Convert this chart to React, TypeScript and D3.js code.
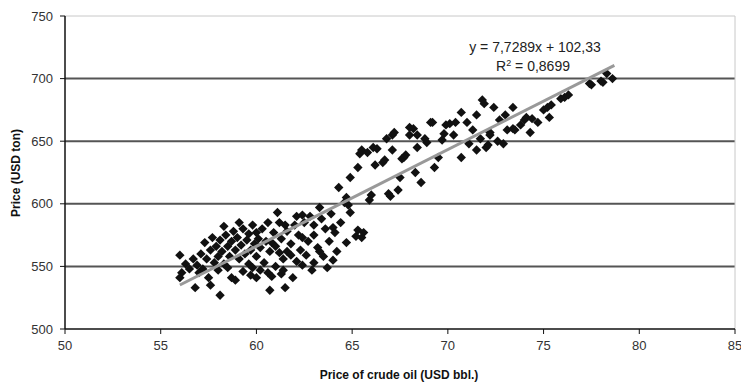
import * as d3 from "d3";

// [crude oil USD/bbl, price USD/ton]
const bandLow: [number, number][] = [
  [56.0, 559], [56.1, 545], [56.0, 541], [56.3, 552], [56.5, 548], [56.7, 556], [56.8, 533], [56.9, 551],
  [57.0, 545], [57.1, 560], [57.2, 548], [57.3, 569], [57.4, 556], [57.5, 541], [57.6, 535], [57.6, 563],
  [57.7, 573], [57.8, 553], [57.9, 566], [58.0, 558], [58.0, 547], [58.1, 527], [58.1, 571], [58.2, 562],
  [58.3, 582], [58.3, 552], [58.4, 575], [58.5, 566], [58.5, 549], [58.6, 558], [58.7, 541], [58.7, 570],
  [58.8, 578], [58.9, 539], [58.9, 563], [59.0, 573], [59.1, 585], [59.1, 556], [59.2, 567], [59.3, 580],
  [59.3, 546], [59.4, 560], [59.5, 571], [59.6, 576], [59.6, 552], [59.7, 563], [59.7, 543], [59.8, 583],
  [59.8, 549], [59.9, 568], [60.0, 558], [60.0, 577], [60.0, 541], [60.1, 572], [60.2, 565], [60.2, 547],
  [60.3, 580], [60.4, 553], [60.5, 570], [60.6, 585], [60.6, 545], [60.7, 531], [60.7, 562], [60.8, 542],
  [60.8, 569], [60.9, 577],
];

const bandMid: [number, number][] = [
  [61.0, 566], [61.0, 550], [61.1, 593], [61.2, 585], [61.2, 561], [61.3, 572], [61.3, 544], [61.4, 547],
  [61.4, 556], [61.5, 533], [61.5, 583], [61.6, 578], [61.6, 562], [61.8, 559], [61.8, 568], [61.9, 541],
  [62.0, 583], [62.1, 590], [62.1, 554], [62.2, 575], [62.3, 563], [62.4, 591], [62.4, 573], [62.4, 551],
  [62.5, 585], [62.6, 559], [62.7, 570], [62.8, 590], [62.9, 547], [63.0, 575], [63.0, 583], [63.0, 553],
  [63.2, 565], [63.3, 597], [63.3, 562], [63.4, 588], [63.5, 558], [63.6, 580], [63.7, 549], [63.8, 570],
  [63.9, 592], [64.0, 581], [64.0, 555], [64.1, 577], [64.2, 562], [64.3, 613], [64.4, 585], [64.6, 601],
  [64.7, 569], [64.7, 605], [64.8, 599], [64.9, 593], [64.9, 621], [65.2, 574], [65.3, 579], [65.5, 573],
  [65.6, 577],
];

const bandUpper: [number, number][] = [
  [65.3, 629], [65.4, 640], [65.5, 643], [65.8, 641], [65.9, 603], [66.0, 607], [66.1, 645], [66.2, 631],
  [66.3, 644], [66.6, 633], [66.7, 635], [66.8, 652], [66.9, 608], [67.0, 606], [67.1, 655], [67.1, 643],
  [67.2, 657], [67.4, 611], [67.5, 621], [67.6, 636], [67.7, 637], [67.8, 639], [68.0, 655], [68.0, 661],
  [68.2, 660], [68.3, 625], [68.4, 645], [68.4, 655], [68.6, 617], [68.8, 652], [68.9, 649], [69.1, 665],
  [69.2, 665], [69.3, 629], [69.5, 637], [69.7, 651], [69.8, 656], [69.9, 663],
];

const bandHigh: [number, number][] = [
  [70.1, 664], [70.3, 655], [70.4, 665], [70.7, 673], [70.7, 637], [71.0, 665], [71.1, 648], [71.3, 659],
  [71.5, 671], [71.5, 643], [71.7, 652], [71.8, 683], [71.9, 680], [72.0, 645], [72.1, 647], [72.2, 657],
  [72.2, 655], [72.4, 677], [72.6, 650], [72.7, 667], [72.9, 648], [73.0, 671], [73.1, 659], [73.4, 677],
  [73.4, 660], [73.5, 659], [73.8, 663], [74.0, 667], [74.1, 669], [74.3, 657], [74.4, 668], [74.7, 665],
  [75.0, 675], [75.2, 677], [75.3, 669], [75.4, 679], [75.9, 684], [76.1, 685], [76.3, 687], [77.4, 696],
  [77.5, 695], [78.0, 698], [78.1, 697], [78.3, 704], [78.6, 700],
];

const xTicks = [50, 55, 60, 65, 70, 75, 80, 85];
const yTicks = [500, 550, 600, 650, 700, 750];
const slope = 7.7289;
const intercept = 102.33;
const trendRange = [56, 78.7];

export default function App() {
  const width = 741;
  const height = 382;
  const x = d3.scaleLinear().domain([50, 85]).range([65, 735]);
  const y = d3.scaleLinear().domain([500, 750]).range([329, 16]);
  const points = [...bandLow, ...bandMid, ...bandUpper, ...bandHigh];
  const diamond = d3.symbol().type(d3.symbolSquare).size(44)() as string;
  const font = "Arial, 'Liberation Sans', sans-serif";

  return (
    <svg
      width={width}
      height={height}
      style={{ position: "absolute", left: 0, top: 0, background: "#fff" }}
      fontFamily={font}
    >
      {/* gridlines */}
      {yTicks.map((t) =>
        t === 500 ? null : (
          <line
            key={t}
            x1={x(50)}
            x2={x(85)}
            y1={y(t)}
            y2={y(t)}
            stroke={t === 750 ? "#c8c8c8" : "#555"}
            strokeWidth={t === 750 ? 1 : 2}
          />
        )
      )}
      <line x1={x(85)} x2={x(85)} y1={y(750)} y2={y(500)} stroke="#c8c8c8" strokeWidth={1} />

      {/* points */}
      {points.map((p, i) => (
        <path
          key={i}
          d={diamond}
          transform={`translate(${x(p[0])},${y(p[1])}) rotate(45)`}
          fill="#111"
        />
      ))}

      {/* trend line */}
      <line
        x1={x(trendRange[0])}
        y1={y(slope * trendRange[0] + intercept)}
        x2={x(trendRange[1])}
        y2={y(slope * trendRange[1] + intercept)}
        stroke="#999"
        strokeWidth={3}
      />

      {/* axes */}
      <line x1={x(50)} x2={x(50)} y1={y(750)} y2={y(500)} stroke="#111" strokeWidth={1.5} />
      <line x1={x(50)} x2={x(85)} y1={y(500)} y2={y(500)} stroke="#111" strokeWidth={1.5} />
      {yTicks.map((t) => (
        <g key={t}>
          <line x1={x(50) - 5} x2={x(50)} y1={y(t)} y2={y(t)} stroke="#111" strokeWidth={1} />
          <text x={53} y={y(t) + 4.5} textAnchor="end" fontSize={13} fill="#333">
            {t}
          </text>
        </g>
      ))}
      {xTicks.map((t) => (
        <g key={t}>
          <line x1={x(t)} x2={x(t)} y1={y(500)} y2={y(500) + 5} stroke="#111" strokeWidth={1} />
          <text x={x(t)} y={350} textAnchor="middle" fontSize={13} fill="#333">
            {t}
          </text>
        </g>
      ))}

      {/* titles */}
      <text x={399} y={379} textAnchor="middle" fontSize={12} fontWeight="bold" fill="#111">
        Price of crude oil (USD bbl.)
      </text>
      <text
        transform="translate(20,173) rotate(-90)"
        textAnchor="middle"
        fontSize={12}
        fontWeight="bold"
        fill="#111"
      >
        Price (USD ton)
      </text>

      {/* equation */}
      <text x={535} y={52} textAnchor="middle" fontSize={14} fill="#222">
        y = 7,7289x + 102,33
      </text>
      <text x={533} y={71} textAnchor="middle" fontSize={14} fill="#222">
        R<tspan dy={-5} fontSize={9}>2</tspan>
        <tspan dy={5}> = 0,8699</tspan>
      </text>
    </svg>
  );
}
